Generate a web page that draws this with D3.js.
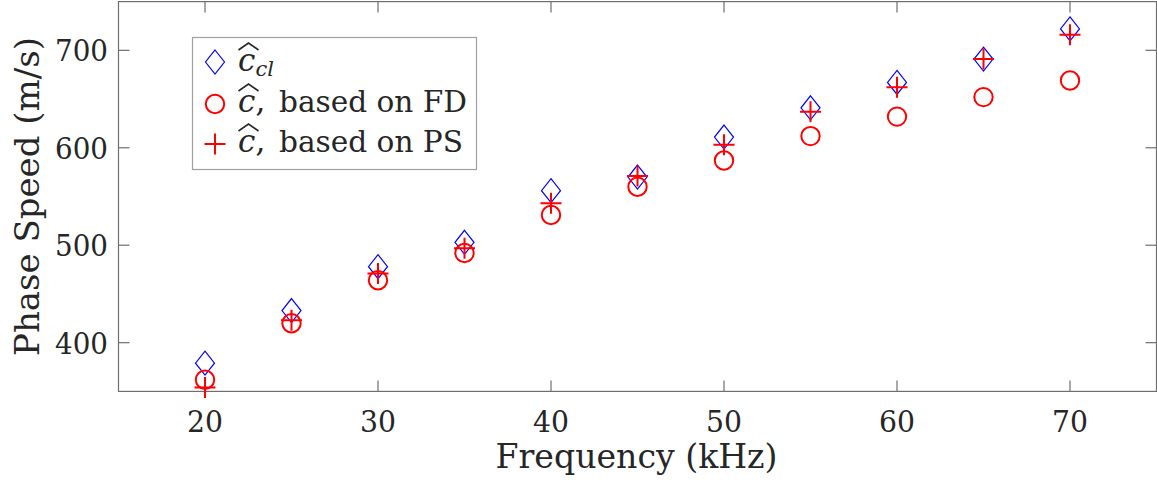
<!DOCTYPE html>
<html>
<head>
<meta charset="utf-8">
<script src="https://cdn.jsdelivr.net/npm/d3@7"></script>
<style>
  html, body { margin: 0; padding: 0; background: #fff; }
  svg { display: block; }
  text { font-family: "DejaVu Serif", "Liberation Serif", serif; fill: #262626; }
</style>
</head>
<body>
<svg id="chart" width="1157" height="490"></svg>
<script>
(function () {
  "use strict";

  // frequency (kHz) and phase speed (m/s)
  const freqs = [20, 25, 30, 35, 40, 45, 50, 55, 60, 65, 70];
  const cCl = [379, 433, 478, 503, 556, 570, 611, 641, 667, 691, 722];
  const cFd = [362, 420, 464, 492, 531, 560, 587, 612, 632, 652, 669];
  const cPs = [354, 423, 471, 497, 543, 571, 603, 637, 662, 691, 716];
  const xTicks = [20, 30, 40, 50, 60, 70];
  const yTicks = [400, 500, 600, 700];
  const legendRows = ["", "based on FD", "based on PS"];

  const svg = d3.select("#chart");
  const left = 118.5, right = 1156.5, top = 1.6, bottom = 391.4;
  const axisColor = "#6e6e6e";

  const x = d3.scaleLinear().domain([15, 75]).range([left, right]);
  const y = d3.scaleLinear().domain([350, 750]).range([bottom, top]);

  // frame
  svg.append("rect")
    .attr("x", left).attr("y", top)
    .attr("width", right - left).attr("height", bottom - top)
    .attr("fill", "none").attr("stroke", axisColor).attr("stroke-width", 1.2);

  // ticks, drawn inward on all four sides
  const tickLen = 11;
  const tk = svg.append("g").attr("stroke", axisColor).attr("stroke-width", 1.2);
  xTicks.forEach((t) => {
    tk.append("line").attr("x1", x(t)).attr("x2", x(t)).attr("y1", bottom).attr("y2", bottom - tickLen);
    tk.append("line").attr("x1", x(t)).attr("x2", x(t)).attr("y1", top).attr("y2", top + tickLen);
  });
  yTicks.forEach((t) => {
    tk.append("line").attr("y1", y(t)).attr("y2", y(t)).attr("x1", left).attr("x2", left + tickLen);
    tk.append("line").attr("y1", y(t)).attr("y2", y(t)).attr("x1", right).attr("x2", right - tickLen);
  });

  svg.append("g").selectAll("text").data(xTicks).enter().append("text")
    .attr("x", (d) => x(d)).attr("y", 432)
    .attr("text-anchor", "middle").attr("font-size", 30)
    .attr("textLength", 36).attr("lengthAdjust", "spacingAndGlyphs")
    .text((d) => d);

  svg.append("g").selectAll("text").data(yTicks).enter().append("text")
    .attr("x", 108).attr("y", (d) => y(d) + 11)
    .attr("text-anchor", "end").attr("font-size", 30)
    .attr("textLength", 53).attr("lengthAdjust", "spacingAndGlyphs")
    .text((d) => d);

  // axis titles
  svg.append("text")
    .attr("x", 636.5).attr("y", 468)
    .attr("text-anchor", "middle").attr("font-size", 34)
    .attr("textLength", 282).attr("lengthAdjust", "spacingAndGlyphs")
    .text("Frequency (kHz)");

  svg.append("text")
    .attr("transform", "translate(39," + ((top + bottom) / 2) + ") rotate(-90)")
    .attr("text-anchor", "middle").attr("font-size", 34)
    .attr("textLength", 319).attr("lengthAdjust", "spacingAndGlyphs")
    .text("Phase Speed (m/s)");

  // marker shapes
  const diamond = (cx, cy) => `M${cx},${cy - 12}L${cx + 9.5},${cy}L${cx},${cy + 12}L${cx - 9.5},${cy}Z`;
  const plus = (cx, cy) => `M${cx - 10.5},${cy}H${cx + 10.5}M${cx},${cy - 10.5}V${cy + 10.5}`;

  const marks = svg.append("g");
  marks.selectAll("path.cl").data(freqs).enter().append("path")
    .attr("class", "cl")
    .attr("d", (d, i) => diamond(x(d), y(cCl[i])))
    .attr("fill", "none").attr("stroke", "#0000ff").attr("stroke-width", 1.2);
  marks.selectAll("circle.fd").data(freqs).enter().append("circle")
    .attr("class", "fd")
    .attr("cx", (d) => x(d)).attr("cy", (d, i) => y(cFd[i])).attr("r", 9.2)
    .attr("fill", "none").attr("stroke", "#ff0000").attr("stroke-width", 2);
  marks.selectAll("path.ps").data(freqs).enter().append("path")
    .attr("class", "ps")
    .attr("d", (d, i) => plus(x(d), y(cPs[i])))
    .attr("fill", "none").attr("stroke", "#ff0000").attr("stroke-width", 2);

  // legend
  const lg = svg.append("g");
  lg.append("rect")
    .attr("x", 192.5).attr("y", 37.5).attr("width", 284).attr("height", 132)
    .attr("fill", "#fff").attr("stroke", "#a0a0a0").attr("stroke-width", 1.2);

  const rowBase = [71, 112, 152];
  const mx = 215;
  lg.append("path").attr("d", diamond(mx, rowBase[0] - 9))
    .attr("fill", "none").attr("stroke", "#0000ff").attr("stroke-width", 1.2);
  lg.append("circle").attr("cx", mx).attr("cy", rowBase[1] - 8).attr("r", 9.2)
    .attr("fill", "none").attr("stroke", "#ff0000").attr("stroke-width", 2);
  lg.append("path").attr("d", plus(mx, rowBase[2] - 8))
    .attr("fill", "none").attr("stroke", "#ff0000").attr("stroke-width", 2);

  legendRows.forEach((label, i) => {
    const b = rowBase[i];
    const t = lg.append("text").attr("x", 238).attr("y", b).attr("font-size", 31);
    t.append("tspan").attr("font-style", "italic").text("c");
    if (i === 0) {
      t.append("tspan").attr("font-style", "italic").attr("font-size", 21).attr("dy", 5).text("cl");
    } else {
      t.append("tspan").text(",");
      lg.append("text").attr("x", 279).attr("y", b).attr("font-size", 30)
        .attr("textLength", i === 1 ? 188 : 184).attr("lengthAdjust", "spacingAndGlyphs")
        .text(label);
    }
    // wide hat over the c
    lg.append("path")
      .attr("d", `M${238.5},${b - 21}L${248.5},${b - 28}L${258.5},${b - 21}`)
      .attr("fill", "none").attr("stroke", "#262626").attr("stroke-width", 1.6);
  });
})();
</script>
</body>
</html>
